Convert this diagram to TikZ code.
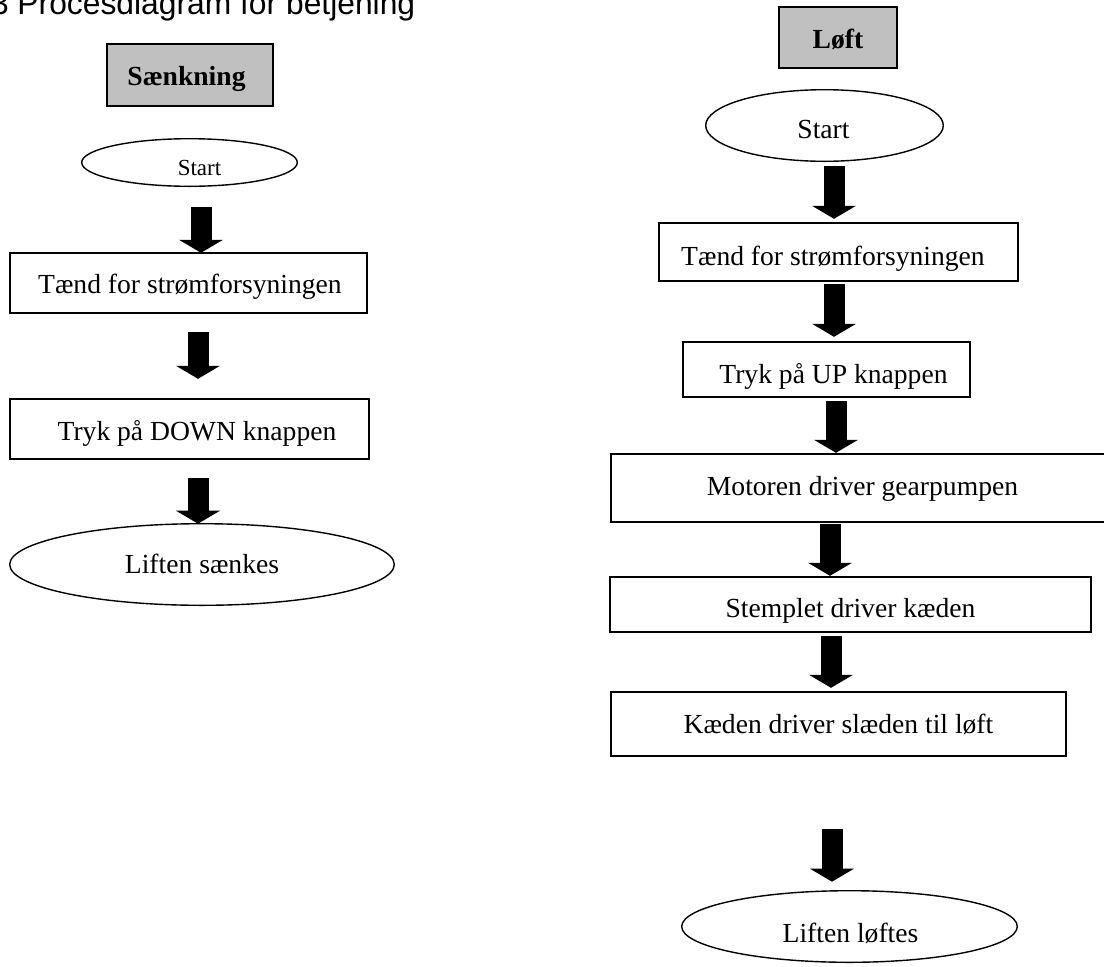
\documentclass[tikz,border=0pt]{standalone}
\usepackage{fontspec}
\setmainfont{Liberation Serif}
\newfontfamily\titlefont{Liberation Sans}
\usetikzlibrary{arrows.meta,shapes.geometric,calc}
\definecolor{hdrgray}{HTML}{C0C0C0}
\newcommand{\lbl}[3]{\makebox[0pt]{\hspace*{#1pt}\hspace*{#1pt}\raisebox{-#2pt}{#3}}}
\begin{document}
\begin{tikzpicture}[x=1pt,y=-1pt,
  every node/.style={inner sep=0pt,outer sep=0pt,text height=0pt,text depth=0pt,
    font=\fontsize{27.6pt}{33pt}\selectfont},
  stepbox/.style={draw=black,line width=1.6pt,rectangle,fill=white},
  hdrbox/.style={draw=black,line width=1.6pt,rectangle,fill=hdrgray,font=\fontsize{27.6pt}{33pt}\selectfont\bfseries},
  oval/.style={draw=black,line width=1.4pt,ellipse,fill=white},
  barrow/.style={draw=black,line width=21pt,-{Triangle[width=44pt,length=13pt,line width=0pt]}}]
\useasboundingbox (0,0) rectangle (1104,967);
\fill[white] (0,0) rectangle (1104,967);

\node[anchor=base west,text height=,text depth=,font=\titlefont\fontsize{31.8pt}{38pt}\selectfont] (title) at (-9,14.5) {3 Procesdiagram for betjening};

% left column
\node[hdrbox,minimum width=166.4pt,minimum height=62.4pt] (sank) at (190,75) {\lbl{-3.5}{10}{Sænkning}};
\node[oval,minimum width=215.6pt,minimum height=47.6pt,font=\fontsize{23pt}{28pt}\selectfont] (lstart) at (189.5,162.5) {\lbl{10}{12.5}{Start}};
\node[stepbox,minimum width=357.4pt,minimum height=60.4pt] (lb1) at (188.5,283) {\lbl{1.5}{10}{Tænd for strømforsyningen}};
\node[stepbox,minimum width=359.4pt,minimum height=60.4pt] (lb2) at (189.5,429) {\lbl{7.5}{11}{Tryk på DOWN knappen}};
\node[oval,minimum width=384.6pt,minimum height=81.6pt] (lend) at (202,564.5) {\lbl{0}{8.5}{Liften sænkes}};

% right column
\node[hdrbox,minimum width=118.4pt,minimum height=61.4pt] (loft) at (838,37.5) {\lbl{0}{10.5}{Løft}};
\node[oval,minimum width=237.6pt,minimum height=71.6pt] (rstart) at (824.5,125.5) {\lbl{-1}{12.5}{Start}};
\node[stepbox,minimum width=359.4pt,minimum height=58.4pt] (rb1) at (838.5,252) {\lbl{-5.5}{13}{Tænd for strømforsyningen}};
\node[stepbox,minimum width=287.4pt,minimum height=55.4pt] (rb2) at (826.5,369.5) {\lbl{7}{13.5}{Tryk på UP knappen}};
\node[stepbox,minimum width=503.4pt,minimum height=68.4pt] (rb3) at (862.5,488) {\lbl{0}{7}{Motoren driver gearpumpen}};
\node[stepbox,minimum width=481.4pt,minimum height=55.4pt] (rb4) at (850.5,604.5) {\lbl{0}{12.5}{Stemplet driver kæden}};
\node[stepbox,minimum width=455.4pt,minimum height=64.4pt] (rb5) at (838.5,724) {\lbl{0}{9}{Kæden driver slæden til løft}};
\node[oval,minimum width=335.6pt,minimum height=71.6pt] (rend) at (849.5,926.5) {\lbl{1}{15.5}{Liften løftes}};

% block arrows
\draw[barrow] ($(lstart.south)+(11.5,21)$) -- ($(lb1.north)+(12.5,0)$);
\draw[barrow] ($(lb1.south)+(9.5,19)$) -- ($(lb2.north)+(8.5,-20)$);
\draw[barrow] ($(lb2.south)+(8.5,19)$) -- ($(lend.north)+(-4,0)$);

\draw[barrow] ($(rstart.south)+(9.5,5)$) -- ($(rb1.north)+(-4.5,-4)$);
\draw[barrow] ($(rb1.south)+(-4.5,3)$) -- ($(rb2.north)+(7.5,-5)$);
\draw[barrow] ($(rb2.south)+(9.5,4)$) -- ($(rb3.north)+(-26.5,-1)$);
\draw[barrow] ($(rb3.south)+(-32.5,2)$) -- ($(rb4.north)+(-20.5,-1)$);
\draw[barrow] ($(rb4.south)+(-19.5,4)$) -- ($(rb5.north)+(-7.5,-4)$);
\draw[barrow] ($(rb5.south)+(-6.5,73)$) -- ($(rend.north)+(-17.5,-9)$);
\end{tikzpicture}
\end{document}
